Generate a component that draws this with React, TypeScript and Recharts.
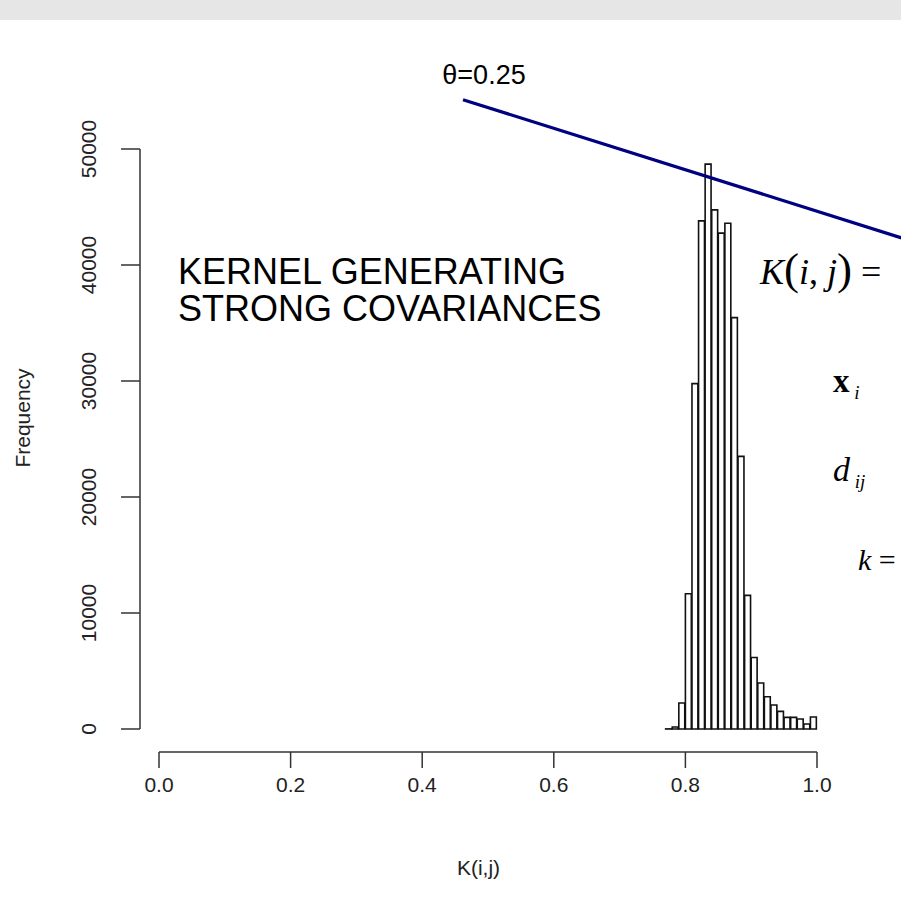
import React from 'react';
import { ComposedChart, Bar, XAxis, YAxis, ReferenceLine } from 'recharts';

// histogram bins (left edge, width 0.01) and counts
const binLeft = [
  0.77, 0.78, 0.79, 0.8, 0.81, 0.82, 0.83, 0.84, 0.85, 0.86, 0.87, 0.88,
  0.89, 0.9, 0.91, 0.92, 0.93, 0.94, 0.95, 0.96, 0.97, 0.98, 0.99,
];
const binCounts = [
  10, 170, 2240, 11660, 29770, 43800, 48700, 44750, 42750, 43600, 35460, 23500,
  11520, 6170, 3960, 2780, 2070, 1520, 1000, 1000, 860, 430, 1030,
];
const BIN_WIDTH = 0.01;

const xTicks = [0, 0.2, 0.4, 0.6, 0.8, 1.0];
const yTicks = [0, 10000, 20000, 30000, 40000, 50000];

// the navy pointer under the theta label, in data units
const pointerLine = [
  { x: 0.462, y: 54250 },
  { x: 1.2, y: 41060 },
];

const data = binLeft.map((lo, i) => ({ mid: lo + BIN_WIDTH / 2, count: binCounts[i] }));

const W = 901;
const H = 912;
const PLOT_W = 677; // 140 -> 817
const X_PAD = 19;
const Y_PAD = 23;
const BAR_PX = (PLOT_W - X_PAD) * BIN_WIDTH;

const sans = '"Liberation Sans", Arial, sans-serif';
const serif = '"Liberation Serif", "Times New Roman", serif';
const axisColor = '#333';
const textColor = '#222';

const YTick = ({ x, y, payload }: any) => (
  <text
    x={x}
    y={y}
    transform={`rotate(-90, ${x}, ${y})`}
    textAnchor="middle"
    fontFamily={sans}
    fontSize={21}
    fill={textColor}
  >
    {payload.value}
  </text>
);

const FreqLabel = ({ viewBox }: any) => {
  const x = viewBox.x - 10;
  const y = 418;
  return (
    <text
      x={x}
      y={y}
      transform={`rotate(-90, ${x}, ${y})`}
      textAnchor="middle"
      fontFamily={sans}
      fontSize={21}
      fill={textColor}
    >
      Frequency
    </text>
  );
};

const Annotations = () => (
  <g>
    <text x={484} y={84} textAnchor="middle" fontFamily={sans} fontSize={27} fill="#000">
      θ=0.25
    </text>
    <text x={178} y={284} fontFamily={sans} fontSize={36} fill="#000">
      KERNEL GENERATING
    </text>
    <text x={178} y={321} fontFamily={sans} fontSize={36} fill="#000">
      STRONG COVARIANCES
    </text>
    <text x={760} y={284} fontFamily={serif} fontSize={36} fill="#000">
      <tspan fontStyle="italic">K</tspan>
      <tspan fontSize={45}>(</tspan>
      <tspan fontStyle="italic">i</tspan>
      <tspan>, </tspan>
      <tspan fontStyle="italic">j</tspan>
      <tspan fontSize={45}>)</tspan>
      <tspan> =</tspan>
    </text>
    <text x={833} y={392} fontFamily={serif} fontSize={33} fill="#000">
      <tspan fontWeight="bold">x</tspan>
      <tspan fontStyle="italic" fontSize={19} dy={7}> i</tspan>
    </text>
    <text x={833} y={481} fontFamily={serif} fontSize={34} fill="#000">
      <tspan fontStyle="italic">d</tspan>
      <tspan fontStyle="italic" fontSize={19} dy={7}> ij</tspan>
    </text>
    <text x={858} y={570} fontFamily={serif} fontSize={30} fill="#000">
      <tspan fontStyle="italic">k</tspan>
      <tspan> =</tspan>
    </text>
  </g>
);

export default function App() {
  return (
    <div style={{ position: 'absolute', left: 0, top: 0, width: W, height: H, background: '#fff' }}>
      <div style={{ position: 'absolute', left: 0, top: 0, width: W, height: 20, background: '#e6e6e6' }} />
      <div style={{ position: 'absolute', left: 0, top: 0 }}>
        <ComposedChart
          width={W}
          height={H}
          data={data}
          margin={{ top: 149, right: 84, bottom: 30, left: 40 }}
          barCategoryGap={0}
          barGap={0}
        >
          <XAxis
            dataKey="mid"
            type="number"
            domain={[0, 1]}
            ticks={xTicks}
            tickFormatter={(v: number) => v.toFixed(1)}
            padding={{ left: X_PAD, right: 0 }}
            height={130}
            tickSize={16}
            tickMargin={9}
            axisLine={{ stroke: axisColor, strokeWidth: 1.5, strokeDasharray: `0 ${X_PAD} ${PLOT_W - X_PAD} 2000` }}
            tickLine={{ stroke: axisColor, strokeWidth: 1.5 }}
            tick={{ fontFamily: sans, fontSize: 21, fill: textColor }}
            label={{ value: 'K(i,j)', position: 'insideBottom', offset: 7, fontFamily: sans, fontSize: 21, fill: textColor }}
          />
          <YAxis
            type="number"
            domain={[0, 50000]}
            ticks={yTicks}
            padding={{ top: 0, bottom: Y_PAD }}
            width={100}
            tickSize={19}
            tickMargin={25}
            axisLine={{ stroke: axisColor, strokeWidth: 1.5, strokeDasharray: `580 2000` }}
            tickLine={{ stroke: axisColor, strokeWidth: 1.5 }}
            tick={<YTick />}
            label={{ content: FreqLabel }}
          />
          <Bar
            dataKey="count"
            barSize={BAR_PX}
            fill="#fff"
            stroke="#111"
            strokeWidth={1.6}
            isAnimationActive={false}
          />
          <ReferenceLine
            segment={pointerLine}
            stroke="#000080"
            strokeWidth={3.2}
            ifOverflow="visible"
          />
          <Annotations />
        </ComposedChart>
      </div>
    </div>
  );
}
